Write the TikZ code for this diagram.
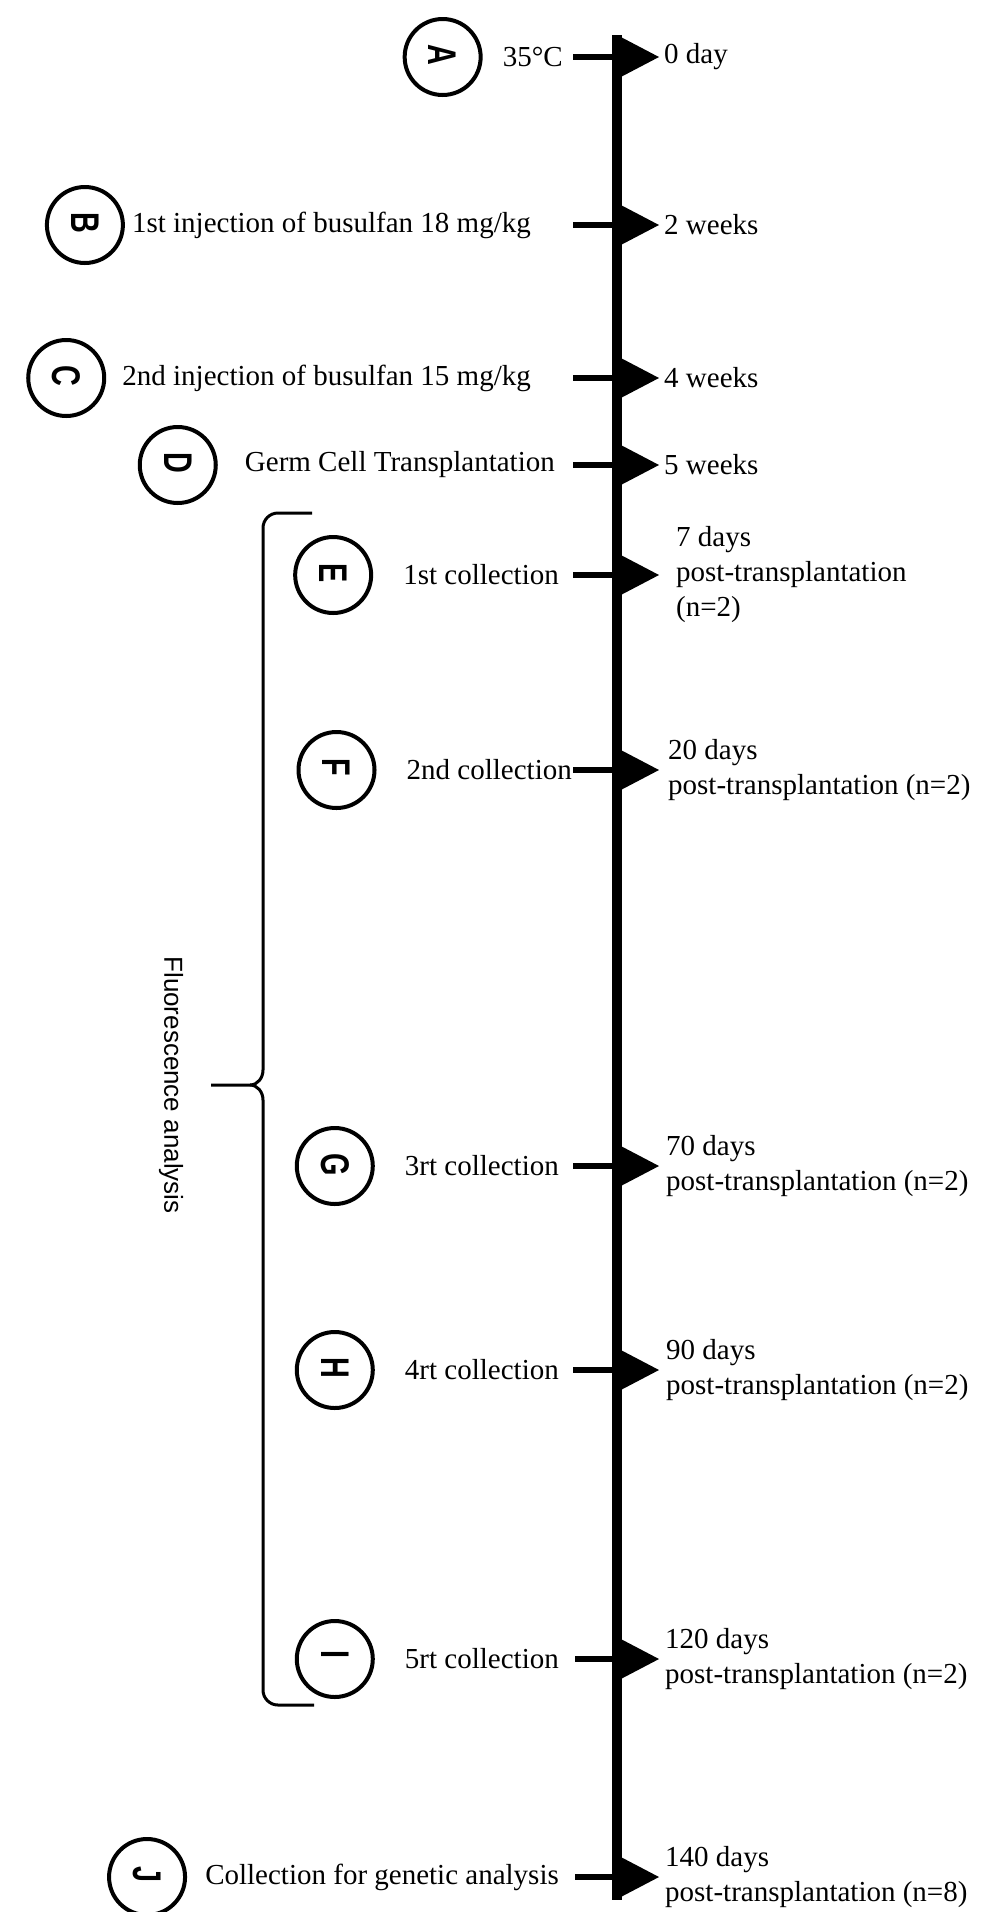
\documentclass[tikz,border=0pt]{standalone}
\usepackage{fontspec}
\setmainfont{Liberation Serif}
\newfontfamily\sansfont{Liberation Sans}
\usepackage{graphicx}
\usetikzlibrary{positioning}
\newcommand{\circlbl}[1]{\rotatebox[origin=c]{-90}{\scalebox{0.72}[1]{#1}}}
\tikzset{flag/.pic={\fill (0,-22) -- (42,0) -- (0,22) -- cycle;}}

\begin{document}
\begin{tikzpicture}
    [x=1pt, y=-1pt,
    evt/.style={inner sep=0pt, font=\fontsize{29}{35}\selectfont},
    timelbl/.style={inner sep=0pt, align=left, anchor=west, font=\fontsize{29}{35}\selectfont},
    badge/.style={circle, draw, line width=4pt, minimum size=76pt, inner sep=0pt, font=\sansfont\bfseries\fontsize{40}{40}\selectfont},
    tickline/.style={line width=6pt},
    mainline/.style={line width=10pt},
    bracketline/.style={line width=3pt}]
    \useasboundingbox (0,0) rectangle (982,1912);

    \coordinate (axis-top) at (617,35);
    \coordinate (axis-bot) at (617,1900);
    \draw[mainline] (axis-top) -- (axis-bot);

    % A
    \coordinate (axis-a) at (617,57);
    \coordinate (tick-a) at (573,57);
    \node (txt-a) [evt, left=10pt of tick-a] {35°C};
    \node (circ-a) [badge, left=20pt of txt-a] {\circlbl{A}};
    \draw[tickline] (tick-a) -- (axis-a);
    \pic at (axis-a) {flag};
    \node (time-a) [timelbl] at (664,57) {0 day};

    % B
    \coordinate (axis-b) at (617,225);
    \coordinate (tick-b) at (573,225);
    \node (txt-b) [evt, left=42pt of tick-b] {1st injection of busulfan 18 mg/kg};
    \node (circ-b) [badge, left=7pt of txt-b] {\circlbl{B}};
    \draw[tickline] (tick-b) -- (axis-b);
    \pic at (axis-b) {flag};
    \node (time-b) [timelbl] at (664,225) {2 weeks};

    % C
    \coordinate (axis-c) at (617,378);
    \coordinate (tick-c) at (573,378);
    \node (txt-c) [evt, left=42pt of tick-c] {2nd injection of busulfan 15 mg/kg};
    \node (circ-c) [badge, left=16pt of txt-c] {\circlbl{C}};
    \draw[tickline] (tick-c) -- (axis-c);
    \pic at (axis-c) {flag};
    \node (time-c) [timelbl] at (664,378) {4 weeks};

    % D
    \coordinate (axis-d) at (617,465);
    \coordinate (tick-d) at (573,465);
    \node (txt-d) [evt, left=18pt of tick-d] {Germ Cell Transplantation};
    \node (circ-d) [badge, left=27pt of txt-d] {\circlbl{D}};
    \draw[tickline] (tick-d) -- (axis-d);
    \pic at (axis-d) {flag};
    \node (time-d) [timelbl] at (664,465) {5 weeks};

    % E
    \coordinate (axis-e) at (617,575);
    \coordinate (tick-e) at (573,575);
    \node (txt-e) [evt, left=14pt of tick-e] {1st collection};
    \node (circ-e) [badge, left=30pt of txt-e] {\circlbl{E}};
    \draw[tickline] (tick-e) -- (axis-e);
    \pic at (axis-e) {flag};
    \node (time-e) [timelbl] at (676,575) {7 days\\post-transplantation\\(n=2)};

    % F
    \coordinate (axis-f) at (617,770);
    \coordinate (tick-f) at (573,770);
    \node (txt-f) [evt, left=1pt of tick-f] {2nd collection};
    \node (circ-f) [badge, left=30pt of txt-f] {\circlbl{F}};
    \draw[tickline] (tick-f) -- (axis-f);
    \pic at (axis-f) {flag};
    \node (time-f) [timelbl] at (668,770) {20 days\\post-transplantation (n=2)};

    % G
    \coordinate (axis-g) at (617,1166);
    \coordinate (tick-g) at (573,1166);
    \node (txt-g) [evt, left=14pt of tick-g] {3rt collection};
    \node (circ-g) [badge, left=30pt of txt-g] {\circlbl{G}};
    \draw[tickline] (tick-g) -- (axis-g);
    \pic at (axis-g) {flag};
    \node (time-g) [timelbl] at (666,1166) {70 days\\post-transplantation (n=2)};

    % H
    \coordinate (axis-h) at (617,1370);
    \coordinate (tick-h) at (573,1370);
    \node (txt-h) [evt, left=14pt of tick-h] {4rt collection};
    \node (circ-h) [badge, left=30pt of txt-h] {\circlbl{H}};
    \draw[tickline] (tick-h) -- (axis-h);
    \pic at (axis-h) {flag};
    \node (time-h) [timelbl] at (666,1370) {90 days\\post-transplantation (n=2)};

    % I
    \coordinate (axis-i) at (617,1659);
    \coordinate (tick-i) at (575,1659);
    \node (txt-i) [evt, left=16pt of tick-i] {5rt collection};
    \node (circ-i) [badge, left=30pt of txt-i] {\circlbl{I}};
    \draw[tickline] (tick-i) -- (axis-i);
    \pic at (axis-i) {flag};
    \node (time-i) [timelbl] at (665,1659) {120 days\\post-transplantation (n=2)};

    % J
    \coordinate (axis-j) at (617,1877);
    \coordinate (tick-j) at (575,1877);
    \node (txt-j) [evt, left=16pt of tick-j] {Collection for genetic analysis};
    \node (circ-j) [badge, left=18pt of txt-j] {\circlbl{J}};
    \draw[tickline] (tick-j) -- (axis-j);
    \pic at (axis-j) {flag};
    \node (time-j) [timelbl] at (665,1877) {140 days\\post-transplantation (n=8)};

    % bracket round the collections
    \coordinate (br-top) at (312,513);
    \coordinate (br-tip) at (211,1085);
    \coordinate (br-bot) at (314,1705);
    \draw[bracketline] (br-top) -- (278,513) to[out=180,in=90] (263,528) -- (263,1070)
      to[out=-90,in=0] (250,1085) -- (br-tip);
    \draw[bracketline] (250,1085) to[out=0,in=90] (263,1100) -- (263,1690)
      to[out=-90,in=180] (278,1705) -- (br-bot);
    \node (fluo) [rotate=-90, inner sep=0pt, font=\sansfont\fontsize{26}{30}\selectfont] at (171,1085) {Fluorescence analysis};
\end{tikzpicture}
\end{document}
